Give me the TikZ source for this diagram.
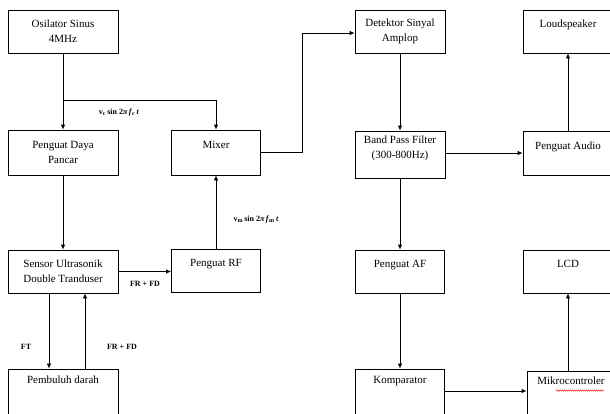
\documentclass[tikz,border=0pt]{standalone}
\usepackage{fontspec}
\setmainfont{Liberation Serif}
\usetikzlibrary{arrows.meta,decorations.pathmorphing}
\begin{document}
\begin{tikzpicture}[x=1pt,y=-1pt,
  box/.style={draw,line width=0.8pt,rectangle,inner sep=0pt,align=center,
    font=\fontsize{11}{15}\selectfont},
  arr/.style={line width=0.8pt,-{Latex[length=5pt,width=4.5pt]}},
  ln/.style={line width=0.8pt},
  lbl/.style={font=\fontsize{8}{9}\selectfont\bfseries,inner sep=0pt}]
\useasboundingbox (0,0) rectangle (610,413);
\clip (0,0) rectangle (610,413);
% left column
\node[box,minimum width=110pt,minimum height=43pt] (osc) at (63,31.5) {Osilator Sinus\\4MHz};
\node[box,minimum width=110pt,minimum height=45pt] (pdp) at (63,152.5) {Penguat Daya\\Pancar};
\node[box,minimum width=110pt,minimum height=43pt] (sensor) at (63,271.5) {Sensor Ultrasonik\\Double Tranduser};
\node[box,minimum width=110pt,minimum height=51pt] (pemb) at (63,394.5) {Pembuluh darah\\\mbox{}\\\mbox{}};
% middle column
\node[box,minimum width=89pt,minimum height=45pt] (mixer) at (216,152.5) {Mixer\\\mbox{}};
\node[box,minimum width=89pt,minimum height=43pt] (prf) at (216,270.5) {Penguat RF\\\mbox{}};
% right-middle column
\node[box,minimum width=90pt,minimum height=43pt] (det) at (400,31.5) {Detektor Sinyal\\Amplop};
\node[box,minimum width=90pt,minimum height=47pt] (bpf) at (400,154.5) {Band Pass Filter\\(300-800Hz)\\\mbox{}};
\node[box,minimum width=89pt,minimum height=43pt] (paf) at (400,271.5) {Penguat AF\\\mbox{}};
\node[box,minimum width=89pt,minimum height=51pt] (komp) at (400,394.5) {Komparator\\\mbox{}\\\mbox{}};
% right column
\node[box,minimum width=90pt,minimum height=43pt] (ls) at (568,31.5) {Loudspeaker\\\mbox{}};
\node[box,minimum width=90pt,minimum height=44pt] (paud) at (568,153) {Penguat Audio\\\mbox{}};
\node[box,minimum width=90pt,minimum height=43pt] (lcd) at (568,271.5) {LCD\\\mbox{}};
\node[box,minimum width=88pt,minimum height=49pt] (mikro) at (571,395.5) {Mikrocontroler\\\mbox{}\\\mbox{}};
% helper coordinates
\coordinate (br) at (63,100);
\coordinate (sl) at ([xshift=-14pt]sensor.south);
\coordinate (sr) at ([xshift=22pt]sensor.south);
\coordinate (detin) at ([yshift=-1.5pt]det.west);
\coordinate (bpfo) at ([yshift=1.5pt]bpf.east);
\coordinate (kompo) at ([yshift=3.5pt]komp.east);
% connectors
\draw[arr] (osc.south) -- (pdp.north);
\draw[arr] (br) -| (mixer.north);
\draw[arr] (pdp.south) -- (sensor.north);
\draw[arr] (sensor.east) -- (prf.west |- sensor.east);
\draw[arr] (prf.north) -- (mixer.south);
\draw[arr] (sl) -- (sl |- pemb.north);
\draw[arr] (sr |- pemb.north) -- (sr);
\draw[arr] (mixer.east) -- ++(41,0) |- (detin);
\draw[arr] (det.south) -- (bpf.north);
\draw[arr] (bpfo) -- (bpfo -| paud.west);
\draw[arr] (paud.north) -- (ls.south);
\draw[arr] (bpf.south) -- (paf.north);
\draw[arr] (paf.south) -- (komp.north);
\draw[arr] (kompo) -- (kompo -| mikro.west);
\draw[arr] (mikro.north -| lcd.south) -- (lcd.south);
% labels
\node[lbl] (lvc) at (119,113) {v\textsubscript{c}\,sin 2\textit{π\,f}\textsubscript{c}\,\textit{t}};
\node[lbl] (lvm) at (256,220) {v\textsubscript{m}\,sin 2\textit{π\,f}\textsubscript{m}\,\textit{t}};
\node[lbl] (lfr1) at (145,284) {FR + FD};
\node[lbl] (lft) at (26,347) {FT};
\node[lbl] (lfr2) at (122,347) {FR + FD};
% spell-check squiggle
\draw[red,line width=0.4pt,decorate,decoration={snake,amplitude=0.7pt,segment length=2pt}] (556,390.5) -- (604,390.5);
\end{tikzpicture}
\end{document}
